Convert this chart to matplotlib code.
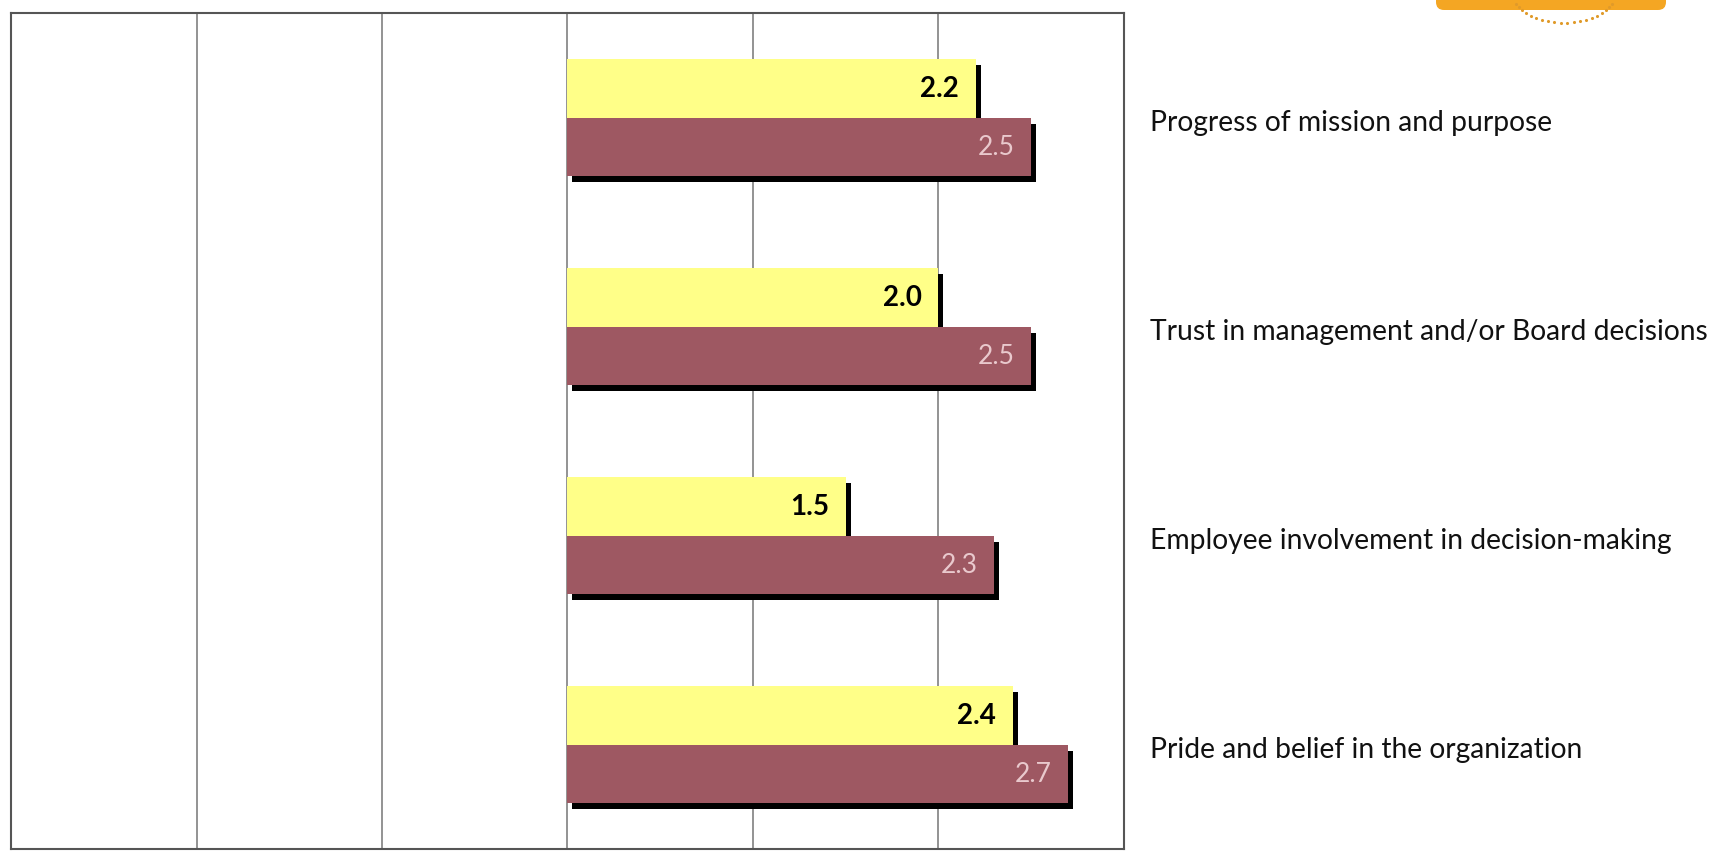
import numpy as np
import matplotlib.pyplot as plt
import matplotlib.transforms as mtransforms
from matplotlib.patches import FancyBboxPatch

# survey scores per statement, two series
categories = [
    'Progress of mission and purpose',
    'Trust in management and/or Board decisions',
    'Employee involvement in decision-making',
    'Pride and belief in the organization',
]
yellow_scores = [2.2, 2.0, 1.5, 2.4]
maroon_scores = [2.5, 2.5, 2.3, 2.7]

W, H = 1731, 854
YELLOW = '#FFFF88'
MAROON = '#9E5862'

plt.rcParams['font.family'] = ['Lato', 'DejaVu Sans']
fig = plt.figure(figsize=(W / 100, H / 100), dpi=100)
ax = fig.add_axes([11 / W, 4 / H, 1113 / W, 836 / H])

y = np.arange(len(categories))
h = 0.28

# drop shadow: same bars shifted a few pixels right/down
shadow = mtransforms.offset_copy(ax.transData, fig=fig, x=5, y=-6, units='dots')

ax.barh(y - h / 2, yellow_scores, height=h, color='black', transform=shadow, zorder=2)
ax.barh(y - h / 2, yellow_scores, height=h, color=YELLOW, zorder=3)
ax.barh(y + h / 2, maroon_scores, height=h, color='black', transform=shadow, zorder=4)
ax.barh(y + h / 2, maroon_scores, height=h, color=MAROON, zorder=5)

for i in range(len(categories)):
    ax.annotate(f'{yellow_scores[i]:.1f}', (yellow_scores[i], y[i] - h / 2),
                xytext=(-12, 0), textcoords='offset points', ha='right', va='center',
                fontsize=20, fontweight='bold', color='black', zorder=6)
    ax.annotate(f'{maroon_scores[i]:.1f}', (maroon_scores[i], y[i] + h / 2),
                xytext=(-12, 0), textcoords='offset points', ha='right', va='center',
                fontsize=19, color='#E9C9CD', zorder=6)

ax.set_xlim(-3, 3)
ax.set_ylim(len(categories) - 0.5, -0.5)
ax.set_xticks(range(-3, 4))
ax.set_yticks([])
ax.tick_params(axis='x', length=0, labelbottom=False)
ax.grid(axis='x', color='#808080', linewidth=1.2)
ax.set_axisbelow(True)
for s in ax.spines.values():
    s.set_color('#555555')
    s.set_linewidth(1.5)

# statement labels sit to the right of the plot frame
lab_tr = mtransforms.blended_transform_factory(fig.transFigure, ax.transData)
for i, c in enumerate(categories):
    ax.text(1150 / W, y[i] + 0.02, c, transform=lab_tr, ha='left', va='center',
            fontsize=20.3, color='#111111', clip_on=False)

# orange badge peeking in at the top right
over = fig.add_axes([0, 0, 1, 1], zorder=-1)
over.set_xlim(0, W)
over.set_ylim(H, 0)
over.axis('off')
over.add_patch(FancyBboxPatch((1436, -20), 230, 31, boxstyle='round,pad=0,rounding_size=8',
                              facecolor='#F4A623', edgecolor='none'))
t = np.linspace(np.pi * 0.1, np.pi * 0.9, 20)
over.scatter(1564 + 50 * np.cos(t), -4 + 28 * np.sin(t), s=5, color='#E09A2A', linewidths=0)

fig.savefig('out.png', dpi=100)
